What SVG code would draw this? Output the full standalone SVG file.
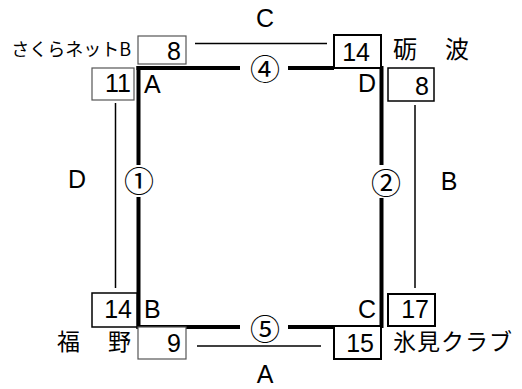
<svg xmlns="http://www.w3.org/2000/svg" width="522" height="389" viewBox="0 0 522 389">
<style>
.thick{stroke:#000;stroke-width:4;fill:none;stroke-linecap:butt}
.thin{stroke:#000;stroke-width:1.5;fill:none}
.box{fill:#fff;stroke:#000;stroke-width:2}
.gbox{fill:#fff;stroke:#555;stroke-width:1.2}
.num{font-family:"Liberation Sans",Arial,sans-serif;font-size:25px;fill:#000;text-anchor:end}
.lbl{font-family:"Liberation Sans",Arial,sans-serif;font-size:25px;fill:#000}
.cjk{font-family:"Noto Sans CJK JP",sans-serif;font-size:24px;fill:#000}
.circ{font-family:"Noto Sans CJK JP",sans-serif;font-size:30px;fill:#000;text-anchor:middle;dominant-baseline:central}
</style>
<rect width="522" height="389" fill="#fff"/>
<g id="connectors">
<path class="thick" d="M138.5,66 V165 M138.5,197 V329"/>
<path class="thick" d="M381.5,66 V165 M381.5,198 V328"/>
<path class="thick" d="M136.5,68 H240 M288,68 H334"/>
<path class="thick" d="M136.5,327 H240 M288,327 H334"/>
<path class="thin" d="M195,43.5 H327"/>
<path class="thin" d="M197,346 H321"/>
<path class="thin" d="M115.5,103 V288"/>
<path class="thin" d="M415,105 V288"/>
</g>
<g id="match1"><text class="circ" x="139" y="179">①</text></g>
<g id="match2"><text class="circ" x="386" y="181">②</text></g>
<g id="match4"><text class="circ" x="265" y="67">④</text></g>
<g id="match5"><text class="circ" x="265" y="327">⑤</text></g>
<g id="labelC"><text class="lbl" x="265" y="27" text-anchor="middle">C</text></g>
<g id="labelA"><text class="lbl" x="265" y="383" text-anchor="middle">A</text></g>
<g id="labelD"><text class="lbl" x="77" y="188" text-anchor="middle">D</text></g>
<g id="labelB"><text class="lbl" x="449" y="190" text-anchor="middle">B</text></g>
<g id="team-sakura">
<text class="cjk" x="131" y="56" style="font-size:18px" text-anchor="end">さくらネットB</text>
<rect class="gbox" x="138" y="36" width="48" height="28"/>
<text class="num" x="181" y="60">8</text>
</g>
<g id="team-tonami">
<rect class="box" x="334" y="35" width="47" height="33"/>
<text class="num" x="370" y="61">14</text>
<text class="cjk" x="393 420 445" y="58">砺 波</text>
</g>
<g id="nodeA">
<rect class="gbox" x="92" y="68" width="42" height="32"/>
<text class="num" x="131" y="92">11</text>
<text class="lbl" x="144" y="93">A</text>
</g>
<g id="nodeD">
<rect class="box" x="388" y="68" width="46" height="33" style="stroke-width:1.5"/>
<text class="num" x="429" y="95">8</text>
<text class="lbl" x="376" y="92" text-anchor="end">D</text>
</g>
<g id="nodeB">
<rect class="box" x="92" y="293" width="45" height="34" style="stroke-width:1.5"/>
<text class="num" x="132" y="318">14</text>
<text class="lbl" x="144" y="318">B</text>
</g>
<g id="team-fukuno">
<rect class="gbox" x="138" y="327" width="48" height="32"/>
<text class="num" x="181" y="352">9</text>
<text class="cjk" x="57 83 108" y="350" style="font-size:23px">福 野</text>
</g>
<g id="nodeC">
<rect class="box" x="388" y="294" width="47" height="32"/>
<text class="num" x="429" y="318">17</text>
<text class="lbl" x="376" y="318" text-anchor="end">C</text>
</g>
<g id="team-himi">
<rect class="box" x="334" y="326" width="47" height="33"/>
<text class="num" x="374" y="352">15</text>
<text class="cjk" x="393" y="350" style="font-size:23px;letter-spacing:1px">氷見クラブ</text>
</g>
</svg>
